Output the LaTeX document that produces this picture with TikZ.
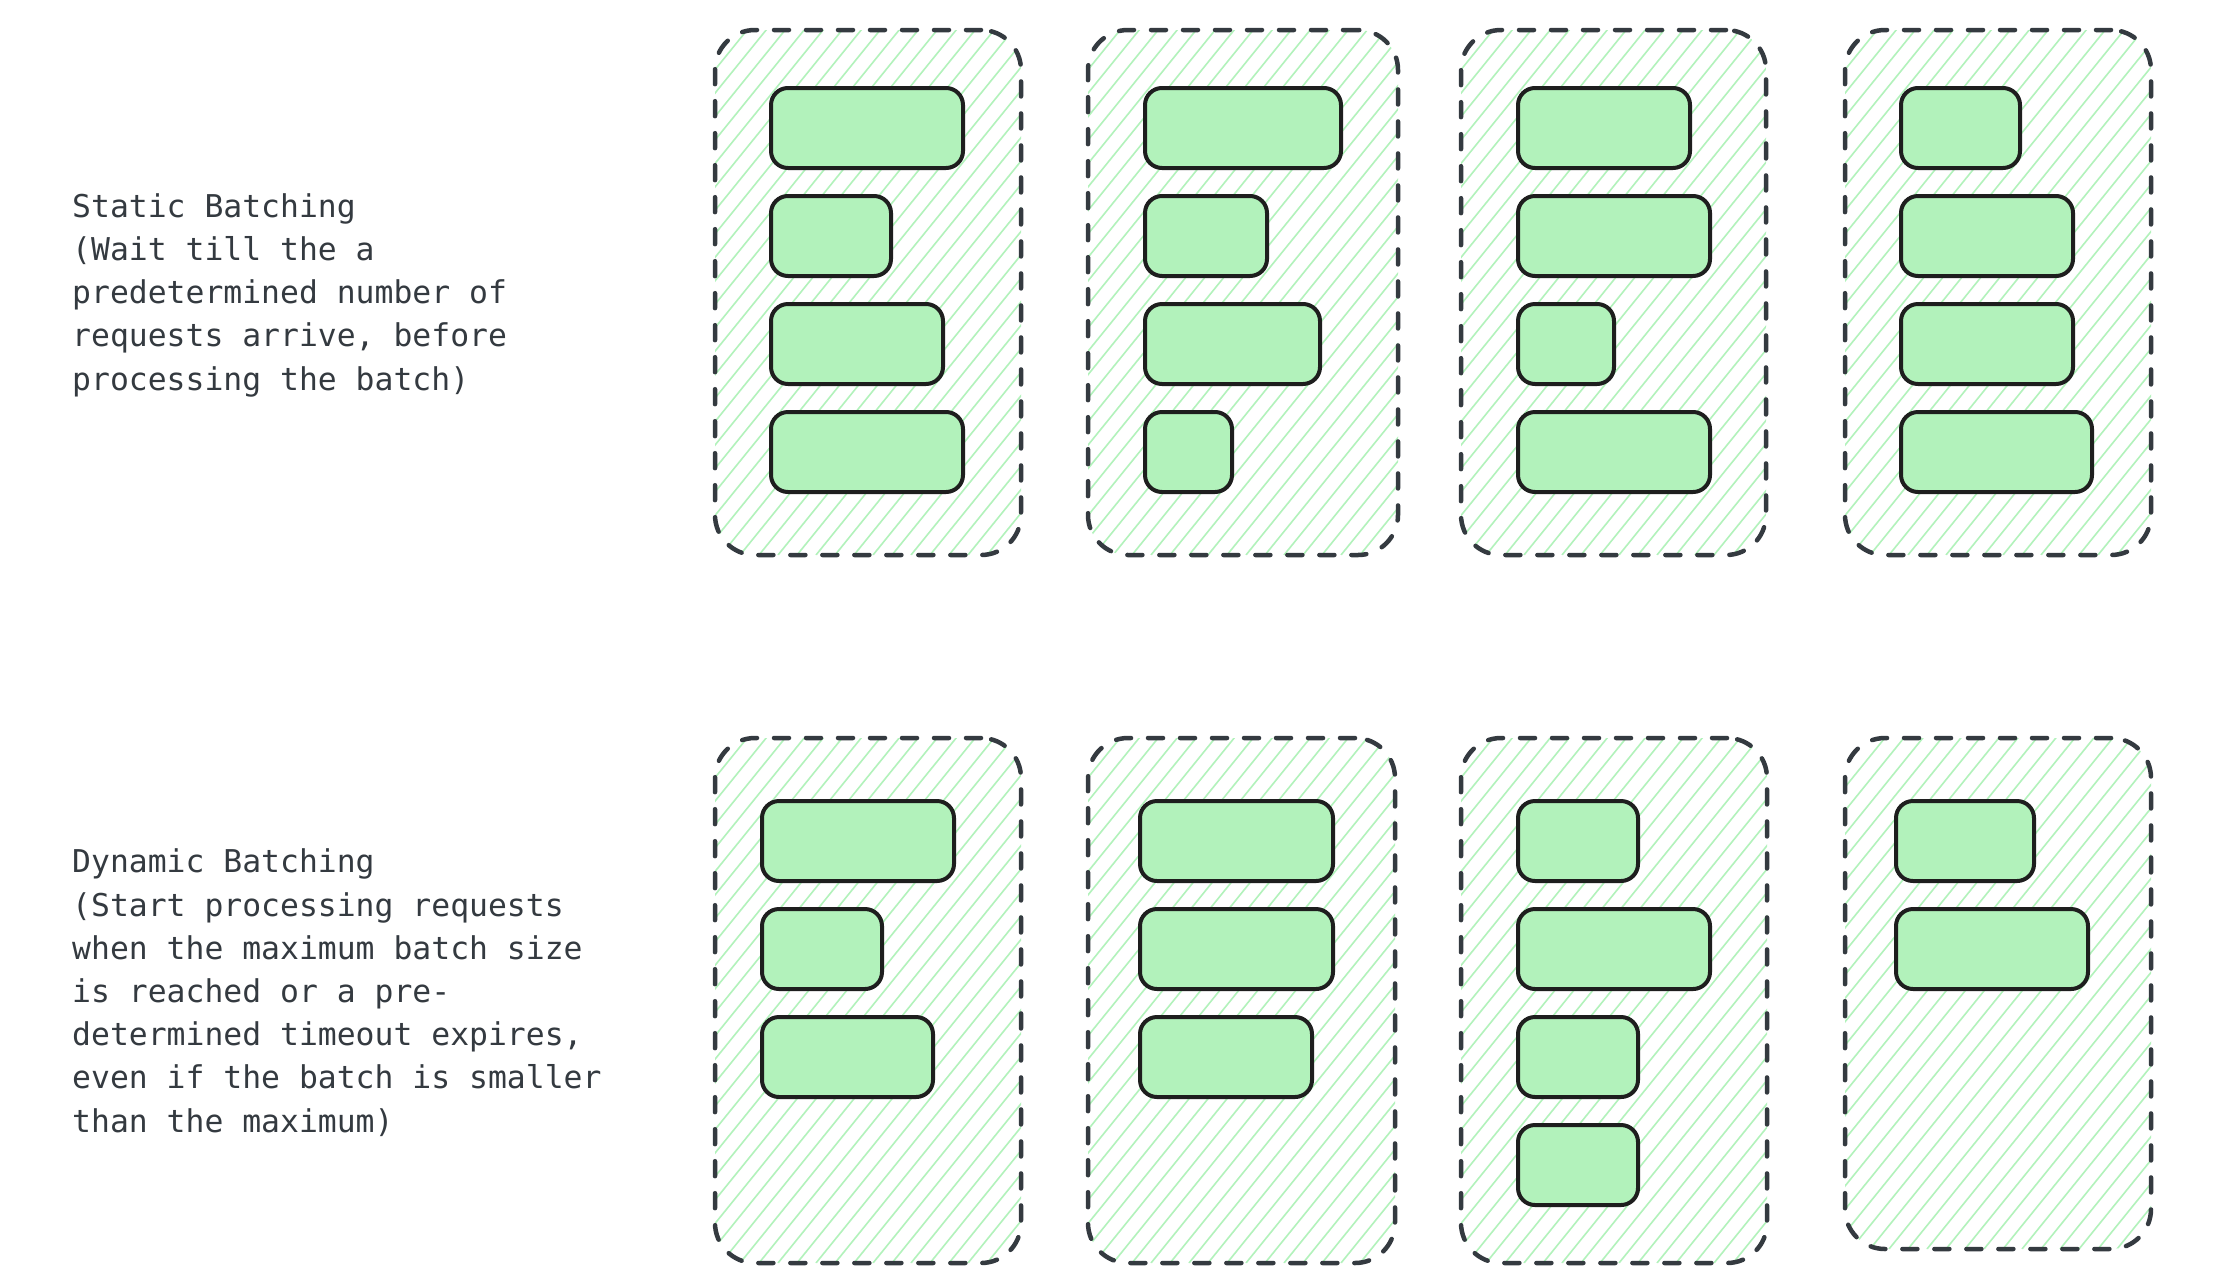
\documentclass[tikz,border=0pt]{standalone}
\usepackage{fontspec}
\newfontfamily\labelfont{DejaVu Sans Mono}
\definecolor{hatchgreen}{HTML}{B2F2BB}
\definecolor{boxfill}{HTML}{B2F2BB}
\definecolor{boxline}{HTML}{1E1E1E}
\definecolor{dashline}{HTML}{343A40}
\definecolor{textcol}{HTML}{343A40}
\begin{document}
\begin{tikzpicture}[x=1pt,y=-1pt,
  hatch/.style={draw=hatchgreen, solid, line width=1.6pt, line cap=butt},
  batch/.style={draw=dashline, line width=4.5pt, dash pattern=on 15pt off 17pt,
    line cap=round, rounded corners=40pt, anchor=north west, inner sep=0pt, outer sep=0pt,
    minimum width=306pt, minimum height=525pt,
    path picture={
      \foreach \i in {0,...,42}{
        \draw[hatch] ([xshift=\i*19pt-450pt]path picture bounding box.south west) -- ++(51:980pt);
      }
    }},
  req/.style={draw=boxline, fill=boxfill, line width=4pt, rounded corners=17pt,
    anchor=north west, inner sep=0pt, outer sep=0pt, minimum height=80pt},
  desc/.style={anchor=base west, align=left, inner sep=0pt, text=textcol,
    font=\labelfont\fontsize{31.4}{43.2}\selectfont}
]
\fill[white] (0,0) rectangle (2230,1286);
\useasboundingbox (0,0) rectangle (2230,1286);

% labels (base anchor = baseline of last line)
\node[desc] (static) at (72,390) {Static Batching\\(Wait till the a\\predetermined number of\\requests arrive, before\\processing the batch)};
\node[desc] (dynamic) at (72,1132) {Dynamic Batching\\(Start processing requests\\when the maximum batch size\\is reached or a pre-\\determined timeout expires,\\even if the batch is smaller\\than the maximum)};

% static batching containers
\node[batch] (s1) at (715,30) {};
\node[batch, minimum width=310pt] (s2) at (1088,30) {};
\node[batch, minimum width=305pt] (s3) at (1461,30) {};
\node[batch] (s4) at (1845,30) {};

% dynamic batching containers
\node[batch] (d1) at (715,738) {};
\node[batch, minimum width=307pt] (d2) at (1088,738) {};
\node[batch] (d3) at (1461,738) {};
\node[batch, minimum height=511pt] (d4) at (1845,738) {};

% static requests
\node[req, minimum width=192pt] (s1a) at (771,88) {};
\node[req, minimum width=120pt] (s1b) at (771,196) {};
\node[req, minimum width=172pt] (s1c) at (771,304) {};
\node[req, minimum width=192pt] (s1d) at (771,412) {};

\node[req, minimum width=196pt] (s2a) at (1145,88) {};
\node[req, minimum width=122pt] (s2b) at (1145,196) {};
\node[req, minimum width=175pt] (s2c) at (1145,304) {};
\node[req, minimum width=87pt] (s2d) at (1145,412) {};

\node[req, minimum width=172pt] (s3a) at (1518,88) {};
\node[req, minimum width=192pt] (s3b) at (1518,196) {};
\node[req, minimum width=96pt] (s3c) at (1518,304) {};
\node[req, minimum width=192pt] (s3d) at (1518,412) {};

\node[req, minimum width=119pt] (s4a) at (1901,88) {};
\node[req, minimum width=172pt] (s4b) at (1901,196) {};
\node[req, minimum width=172pt] (s4c) at (1901,304) {};
\node[req, minimum width=191pt] (s4d) at (1901,412) {};

% dynamic requests
\node[req, minimum width=192pt] (d1a) at (762,801) {};
\node[req, minimum width=120pt] (d1b) at (762,909) {};
\node[req, minimum width=171pt] (d1c) at (762,1017) {};

\node[req, minimum width=193pt] (d2a) at (1140,801) {};
\node[req, minimum width=193pt] (d2b) at (1140,909) {};
\node[req, minimum width=172pt] (d2c) at (1140,1017) {};

\node[req, minimum width=120pt] (d3a) at (1518,801) {};
\node[req, minimum width=192pt] (d3b) at (1518,909) {};
\node[req, minimum width=120pt] (d3c) at (1518,1017) {};
\node[req, minimum width=120pt] (d3d) at (1518,1125) {};

\node[req, minimum width=138pt] (d4a) at (1896,801) {};
\node[req, minimum width=192pt] (d4b) at (1896,909) {};
\end{tikzpicture}
\end{document}
